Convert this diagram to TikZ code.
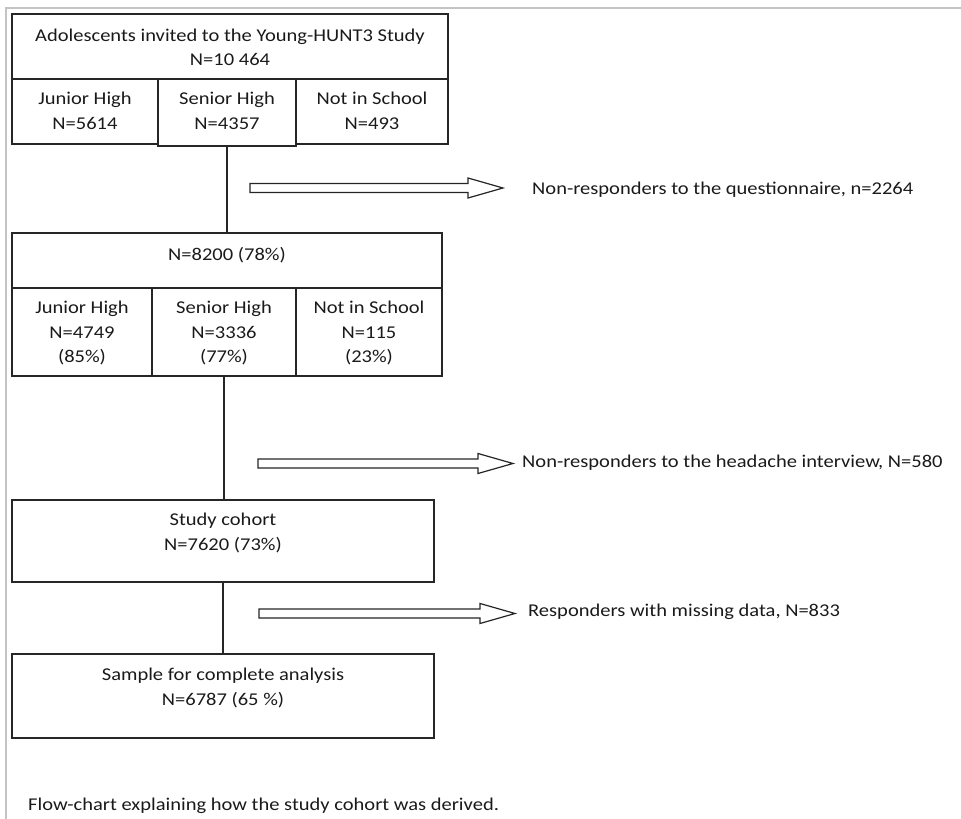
\documentclass[tikz,border=0pt]{standalone}
\usepackage{fontspec}
\setmainfont{Carlito}[FakeStretch=1.14]
\definecolor{linec}{HTML}{262626}
\definecolor{txtc}{HTML}{1A1A1A}
\definecolor{framec}{HTML}{C4C4C4}
\newcommand\mkbox[5]{\node[box, minimum width={(#4-#2)*1pt}, minimum height={(#5-#3)*1pt}] (#1) at ({(#2+#4)/2},{(#3+#5)/2}) {};}
\newcommand\blockarrow[4]{\draw[barrow] ({#1},{#4-4.5}) -- ({#2},{#4-4.5}) -- ({#2},{#4-10}) -- ({#3},{#4}) -- ({#2},{#4+10}) -- ({#2},{#4+4.5}) -- ({#1},{#4+4.5}) -- cycle;}
\tikzset{
  box/.style={draw=linec, line width=1.3pt, inner sep=0pt, outer sep=0pt},
  txt/.style={font=\fontsize{18}{24.5}\selectfont, align=center, text=txtc, inner sep=0pt},
  side/.style={txt, anchor=west},
  barrow/.style={draw=linec, line width=1.2pt, line join=miter, fill=white},
  conn/.style={draw=linec, line width=1.3pt},
  frame/.style={draw=framec, line width=2pt}
}
\begin{document}
\begin{tikzpicture}[x=1pt,y=-1pt]
\useasboundingbox (0,0) rectangle (961,819);
\draw[frame] (6,819) -- (6,8) -- (961,8);
% level 1
\mkbox{hdra}{12}{14}{448}{79}
\mkbox{jha}{12}{79}{158}{144}
\mkbox{sha}{158}{79}{296}{146}
\mkbox{nsa}{296}{79}{448}{144}
\node[txt] (thdra) at (230,47.5) {Adolescents invited to the Young-HUNT3 Study\\N=10 464};
\node[txt] (tjha) at (85,111) {Junior High\\N=5614};
\node[txt] (tsha) at (227,111) {Senior High\\N=4357};
\node[txt] (tnsa) at (372,111) {Not in School\\N=493};
% level 2
\mkbox{hdrb}{12}{233}{442}{288}
\mkbox{jhb}{12}{288}{152}{376}
\mkbox{shb}{152}{288}{296}{376}
\mkbox{nsb}{296}{288}{442}{376}
\node[txt] (thdrb) at (227,255) {N=8200 (78\%)};
\node[txt] (tjhb) at (82,333) {Junior High\\N=4749\\(85\%)};
\node[txt] (tshb) at (224,333) {Senior High\\N=3336\\(77\%)};
\node[txt] (tnsb) at (369,333) {Not in School\\N=115\\(23\%)};
% level 3, 4
\mkbox{study}{12}{500}{434}{582}
\node[txt] (tstudy) at (223,533) {Study cohort\\N=7620 (73\%)};
\mkbox{sample}{12}{654}{434}{738}
\node[txt] (tsample) at (223,688) {Sample for complete analysis\\N=6787 (65 \%)};
% connectors
\draw[conn] (sha.south) -- (sha.south |- hdrb.north);
\draw[conn] (shb.south) -- (shb.south |- study.north);
\draw[conn] (study.south) -- (study.south |- sample.north);
% side arrows
\blockarrow{250}{468}{503}{188}
\node[side] (nra) at (532,190) {Non-responders to the questionnaire, n=2264};
\blockarrow{258}{478}{513}{463.5}
\node[side] (nrb) at (522,463) {Non-responders to the headache interview, N=580};
\blockarrow{259}{480}{515}{613.5}
\node[side] (nrc) at (528,612) {Responders with missing data, N=833};
% caption
\node[txt, anchor=base west] (cap) at (28,810) {Flow-chart explaining how the study cohort was derived.};
\end{tikzpicture}
\end{document}
